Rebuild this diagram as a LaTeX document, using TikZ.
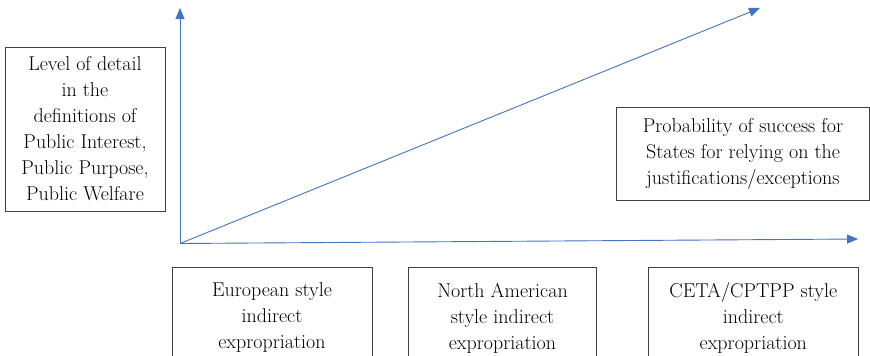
\documentclass[tikz,border=0pt]{standalone}
\usepackage{fontspec}
\usetikzlibrary{arrows.meta}
\definecolor{axisblue}{HTML}{4472C4}
\definecolor{boxline}{HTML}{404040}
\begin{document}
\begin{tikzpicture}[x=1pt,y=-1pt,
  box/.style={draw=boxline,line width=0.9pt,align=center,text=black,inner sep=0pt,
    font=\fontsize{20}{26}\selectfont},
  axis/.style={draw=axisblue,line width=0.9pt,-{Triangle[length=11pt,width=9pt]}}]
\useasboundingbox (0,0) rectangle (870,356);
\clip (0,0) rectangle (870,356);
\node[box,minimum width=160pt,minimum height=164pt] (ylabel) at (85,129)
  {Level of detail\\in the\\definitions of\\Public Interest,\\Public Purpose,\\Public Welfare};
\node[box,minimum width=253pt,minimum height=93pt] (plabel) at (743,153.5)
  {Probability of success for\\States for relying on the\\justifications/exceptions};
\node[box,minimum width=200pt,minimum height=101pt] (eu) at (272,318)
  {European style\\indirect\\expropriation};
\node[box,minimum width=188pt,minimum height=101pt] (na) at (502.5,318)
  {North American\\style indirect\\expropriation};
\node[box,minimum width=210pt,minimum height=101pt] (ceta) at (753.3,318)
  {CETA/CPTPP style\\indirect\\expropriation};
\coordinate (origin) at (180,243.5);
\coordinate (ytop) at (180,8);
\coordinate (diag) at (760,8);
\coordinate (xend) at (858,239);
\draw[axis] (origin) -- (ytop);
\draw[axis] (origin) -- (diag);
\draw[axis] (origin) -- (xend);
\end{tikzpicture}
\end{document}
